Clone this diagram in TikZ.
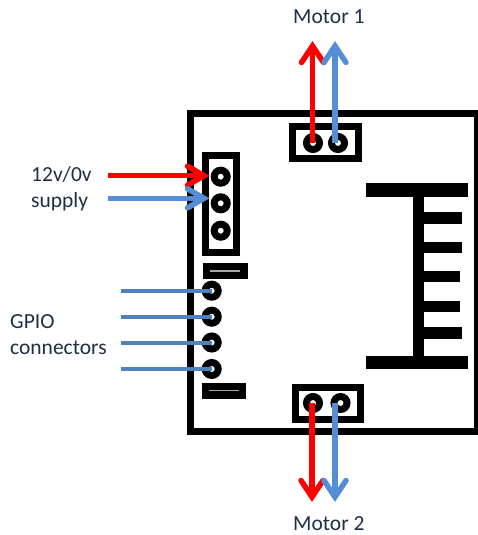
\documentclass[tikz,border=0pt]{standalone}
\usepackage{fontspec}
\setmainfont{Carlito}
\definecolor{wireblue}{HTML}{4F81BD}
\definecolor{arrowblue}{HTML}{558ED5}
\definecolor{labelink}{HTML}{1F2D45}
\tikzset{
  x=1pt,y=-1pt,
  housing/.style={draw=black,line width=7pt,inner sep=0pt,outer sep=0pt,fill=white},
  pin/.style={circle,draw=black,line width=7pt,fill=white,minimum size=13pt,inner sep=0pt,outer sep=0pt},
  flow/.style={line width=5.5pt},
  barbs/.style={line width=5.5pt,line cap=round,miter limit=10},
  wire/.style={draw=wireblue,line width=4pt},
  lbl/.style={text=labelink,font=\fontsize{21.5}{21.5}\selectfont,inner sep=0pt,anchor=base west},
  slot/.style={draw=black!35,line width=1.2pt},
  solid bar/.style={fill=black}
}
\begin{document}
\begin{tikzpicture}
\useasboundingbox (0,0) rectangle (477,535);
% board
\node[housing,minimum width=287pt,minimum height=318.5pt] (board) at (334,272.3) {};
% connector housings
\node[housing,minimum width=66pt,minimum height=32pt] (top) at (325.5,142.5) {};
\node[housing,minimum width=65pt,minimum height=32pt] (bottom) at (327.5,403.5) {};
\node[housing,minimum width=31.5pt,minimum height=97.5pt] (power) at (221,204) {};
% small end bars
\node[fill=black,minimum width=45pt,minimum height=16.6pt,inner sep=0pt] (bar1) at (225.2,271) {};
\node[fill=black,minimum width=44.3pt,minimum height=16.3pt,inner sep=0pt] (bar2) at (223.8,390.8) {};
\draw[slot] ([xshift=-15pt]bar1.center) -- ([xshift=15pt]bar1.center);
\draw[slot] ([xshift=-15pt]bar2.center) -- ([xshift=15pt]bar2.center);
% comb
\fill[solid bar] (366,183.3) rectangle (468.3,196.7);
\fill[solid bar] (366,355.7) rectangle (468.3,369);
\fill[solid bar] (412.7,190) rectangle (424.3,362);
\fill[solid bar] (418,211.7) rectangle (462.3,223.7);
\fill[solid bar] (418,241.7) rectangle (462.3,253.3);
\fill[solid bar] (418,270.7) rectangle (460.3,282.3);
\fill[solid bar] (418,300.7) rectangle (460.3,312.3);
\fill[solid bar] (418,327.3) rectangle (462.3,339.3);
% pins
\node[pin] (t1) at (313,143) {};
\node[pin] (t2) at (338,143) {};
\node[pin] (b1) at (313,403) {};
\node[pin] (b2) at (340.5,403) {};
\node[pin] (p1) at (220.7,176.7) {};
\node[pin] (p2) at (220.7,203.3) {};
\node[pin] (p3) at (220.7,230.7) {};
\node[pin] (g1) at (211.7,290.7) {};
\node[pin] (g2) at (211.7,316.7) {};
\node[pin] (g3) at (211.7,342.5) {};
\node[pin] (g4) at (211.7,369) {};
% free ends (centre line of each arrow tip)
\coordinate (m1r) at (312.5,46);
\coordinate (m1b) at (335,46);
\coordinate (m2r) at (312,497);
\coordinate (m2b) at (335,497);
\coordinate (s1) at (108,175.7);
\coordinate (s2) at (108,198.3);
\coordinate (s1t) at (204,175.7);
\coordinate (s2t) at (204,198.3);
\coordinate (w1) at (120.7,290.7);
\coordinate (w2) at (120.7,316.7);
\coordinate (w3) at (120.7,342.5);
\coordinate (w4) at (120.7,369);
% wires
\draw[wire] (w1) -- (g1.center);
\draw[wire] (w2) -- (g2.center);
\draw[wire] (w3) -- (g3.center);
\draw[wire] (w4) -- (g4.center);
% arrows
\draw[flow,draw=red] (t1.center -| m1r) -- (m1r);
\draw[barbs,draw=red] (m1r) ++(-11,16.5) -- (m1r) -- ++(11,16.5);
\draw[flow,draw=arrowblue] (t2.center -| m1b) -- (m1b);
\draw[barbs,draw=arrowblue] (m1b) ++(-11,16.5) -- (m1b) -- ++(11,16.5);
\draw[flow,draw=red] (b1.center -| m2r) -- (m2r);
\draw[barbs,draw=red] (m2r) ++(-11,-16.5) -- (m2r) -- ++(11,-16.5);
\draw[flow,draw=arrowblue] (b2.center -| m2b) -- (m2b);
\draw[barbs,draw=arrowblue] (m2b) ++(-11,-16.5) -- (m2b) -- ++(11,-16.5);
\draw[flow,draw=red] (s1) -- (s1t);
\draw[barbs,draw=red] (s1t) ++(-16.5,-9.5) -- (s1t) -- ++(-16.5,9.5);
\draw[flow,draw=arrowblue] (s2) -- (s2t);
\draw[barbs,draw=arrowblue] (s2t) ++(-16.5,-9.5) -- (s2t) -- ++(-16.5,9.5);
% labels
\node[lbl] (l1) at (293,24) {Motor 1};
\node[lbl] (l2) at (293,530) {Motor 2};
\node[lbl] (l3) at (31,181.5) {12v/0v};
\node[lbl] (l4) at (31,207) {supply};
\node[lbl] (l5) at (10,328.5) {GPIO};
\node[lbl] (l6) at (10,354.5) {connectors};
\end{tikzpicture}
\end{document}
